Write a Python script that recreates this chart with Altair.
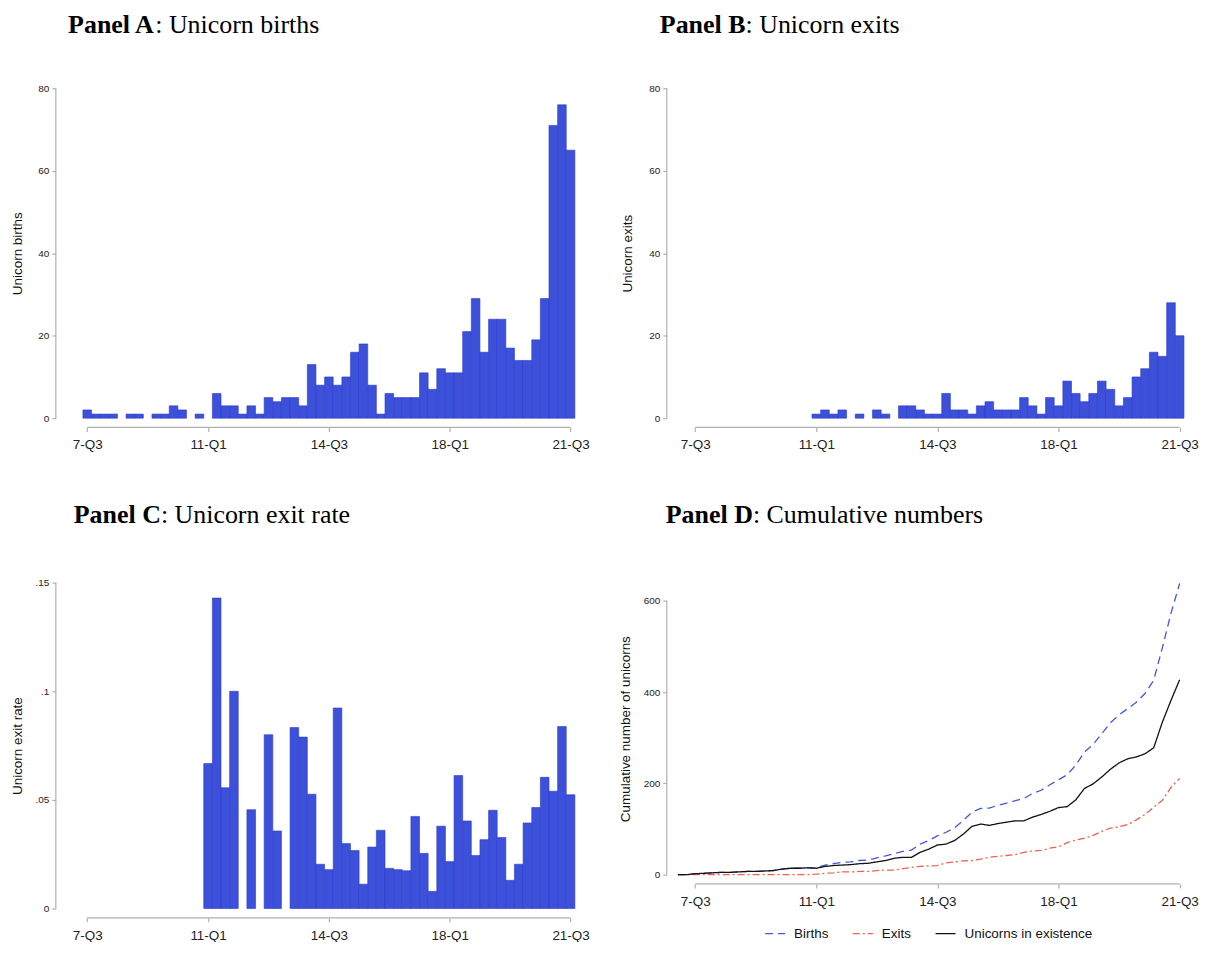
import altair as alt
import pandas as pd

# ---------------- data ----------------
# quarter index: 0 = 2007-Q3 ; series start at 2007-Q1 (index -2) and end at 2021-Q3 (index 56)
QUARTER_IDX = list(range(-2, 57))

BIRTHS = [0, 0,
          2, 1, 1, 1, 0, 1, 1, 0, 1, 1, 3, 2, 0, 1, 0,
          6, 3, 3, 1, 3, 1, 5, 4, 5, 5, 3,
          13, 8, 10, 8, 10, 16, 18, 8, 1,
          6, 5, 5, 5, 11, 7, 12, 11, 11,
          21, 29, 16, 24, 24, 17, 14, 14, 19, 29,
          71, 76, 65]

EXITS = [0] * 16 + [1, 2, 1, 2, 0, 1, 0, 2, 1, 0,
                    3, 3, 2, 1, 1, 6, 2, 2, 1, 3, 4,
                    2, 2, 2, 5, 3, 1, 5, 3, 9, 6, 4, 6, 9, 7, 3, 5,
                    10, 12, 16, 15, 28, 20]

EXIT_RATE = [None] * 16 + [0.0667, 0.1429, 0.0556, 0.1000, None, 0.0455, None, 0.0800, 0.0357, None,
                           0.0833, 0.0789, 0.0526, 0.0204, 0.0179, 0.0923, 0.0299, 0.0267, 0.0112,
                           0.0283, 0.0360, 0.0185, 0.0179, 0.0174, 0.0424, 0.0254, 0.0079, 0.0379,
                           0.0216, 0.0612, 0.0403, 0.0244, 0.0317, 0.0452, 0.0327, 0.0130, 0.0204,
                           0.0394, 0.0465, 0.0604, 0.0540, 0.0838, 0.0524]

X_TICKS = [0, 14, 28, 42, 56]
X_TICK_LABELS = ["7-Q3", "11-Q1", "14-Q3", "18-Q1", "21-Q3"]

Y_TICKS_COUNT = [0, 20, 40, 60, 80]
Y_TICKS_RATE = [0, 0.05, 0.1, 0.15]
Y_LABELS_RATE = ["0", ".05", ".1", ".15"]
Y_TICKS_CUM = [0, 200, 400, 600]

SERIES = ["Births", "Exits", "Unicorns in existence"]
LINE_COLORS = ["#4656e0", "#f2604c", "#111111"]
DASHES = [[8, 5], [7, 3, 2, 3], [1, 0]]

df = pd.DataFrame({"idx": QUARTER_IDX, "births": BIRTHS, "exits": EXITS, "rate": EXIT_RATE})

# ---------------- styles ----------------
NARROW = "Liberation Sans Narrow, Arial Narrow, Liberation Sans, sans-serif"
SANS = "Liberation Sans, Arial, Helvetica, sans-serif"
SERIF = "Liberation Serif, Times New Roman, serif"
BAR_FILL = "#3c50d9"
BAR_EDGE = "#2b3ccc"
AXIS_COLOR = "#b0b0b0"
TEXT_COLOR = "#222222"

COL0_W, COL1_W = 522, 519
ROW0_H = 331
C_H = 327
D_H = 293
X_DOM_0 = [-3.637, 56.64]
X_DOM_1 = [-3.283, 56.51]
ROW_GAP = 165
COL_GAP = 91

x_label_expr = ("[" + ",".join("'%s'" % s for s in X_TICK_LABELS) + "][indexof(["
                + ",".join(str(v) for v in X_TICKS) + "], datum.value)]")
rate_label_expr = ("[" + ",".join("'%s'" % s for s in Y_LABELS_RATE) + "][indexof(["
                   + ",".join(str(v) for v in Y_TICKS_RATE) + "], datum.value)]")


def x_axis():
    return alt.Axis(values=X_TICKS, labelExpr=x_label_expr, title=None, domain=False, grid=False,
                    ticks=True, tickSize=4, tickColor=AXIS_COLOR, tickWidth=1.2, offset=9.3,
                    labelFont=NARROW, labelFontSize=13.5, labelColor=TEXT_COLOR, labelPadding=6.5,
                    labelFlush=False, labelOverlap=False)


def y_axis(values, title, title_x, title_y, label_expr=None):
    kw = dict(values=values, title=title, domain=False, grid=False, ticks=True, tickSize=4,
              tickColor=AXIS_COLOR, tickWidth=1.2, labelFont=NARROW, labelFontSize=10,
              labelColor=TEXT_COLOR, labelPadding=3, labelFlush=False, labelOverlap=False,
              titleFont=SANS, titleFontSize=13.5, titleFontWeight="normal", titleColor="#111111",
              titleX=title_x, titleY=title_y, titleAngle=270, titleAlign="center",
              titleBaseline="middle")
    if label_expr:
        kw["labelExpr"] = label_expr
    return alt.Axis(**kw)


one = pd.DataFrame({"k": [0]})


def title_layers(bold, rest, x, y, bold_w):
    a = alt.Chart(one).mark_text(align="left", baseline="alphabetic", font=SERIF, fontSize=26,
                                 fontWeight="bold", color="black", text=bold).encode(
        x=alt.value(x), y=alt.value(y))
    b = alt.Chart(one).mark_text(align="left", baseline="alphabetic", font=SERIF, fontSize=26,
                                 fontWeight="normal", color="black", text=rest).encode(
        x=alt.value(x + bold_w), y=alt.value(y))
    return [a, b]


def axis_lines(ytop, height):
    yl = alt.Chart(one).mark_rule(color=AXIS_COLOR, strokeWidth=1.2).encode(
        x=alt.value(0), y=alt.datum(0), y2=alt.datum(ytop))
    xl = alt.Chart(one).mark_rule(color=AXIS_COLOR, strokeWidth=1.2).encode(
        x=alt.datum(X_TICKS[0]), x2=alt.datum(X_TICKS[-1]), y=alt.value(height + 9.3))
    return [yl, xl]


def bar_panel(field, xdom, ydom, yticks, ytitle, ytitle_x, height, label_expr=None):
    return alt.Chart(df).transform_filter("datum.%s > 0" % field).transform_calculate(
        x0="datum.idx - 0.5", x1="datum.idx + 0.5").mark_rect(
        fill=BAR_FILL, stroke=BAR_EDGE, strokeWidth=0.6).encode(
        x=alt.X("x0:Q", scale=alt.Scale(domain=xdom, nice=False, zero=False), axis=x_axis()),
        x2="x1:Q",
        y=alt.Y("%s:Q" % field, scale=alt.Scale(domain=ydom, nice=False, zero=False),
                axis=y_axis(yticks, ytitle, ytitle_x, height / 2, label_expr)),
        y2=alt.datum(0))


# anchor fixing the top-left of the drawing at the page's 8px margin
anchor = alt.Chart(one).mark_rule(color="white", strokeWidth=1).encode(
    x=alt.value(-47.5), x2=alt.value(-47.4), y=alt.value(-78.2), y2=alt.value(-78.1))

# Panel A
pA = alt.layer(
    bar_panel("births", X_DOM_0, [0, 80], Y_TICKS_COUNT, "Unicorn births", -38, ROW0_H),
    *axis_lines(80, ROW0_H),
    *title_layers("Panel A", ": Unicorn births", 12.3, -55.6, 87.4),
    anchor,
).properties(width=COL0_W, height=ROW0_H)

# Panel B
pB = alt.layer(
    bar_panel("exits", X_DOM_1, [0, 80], Y_TICKS_COUNT, "Unicorn exits", -39, ROW0_H),
    *axis_lines(80, ROW0_H),
    *title_layers("Panel B", ": Unicorn exits", -7, -55.6, 86.0),
).properties(width=COL1_W, height=ROW0_H)

# Panel C
pC = alt.layer(
    bar_panel("rate", X_DOM_0, [0, 0.15], Y_TICKS_RATE, "Unicorn exit rate", -38, C_H,
              rate_label_expr),
    *axis_lines(0.15, C_H),
    *title_layers("Panel C", ": Unicorn exit rate", 18, -59.5, 87.4),
).properties(width=COL0_W, height=C_H)

# Panel D  (legend coordinates are relative to the top-left plot area)
row1_top = ROW0_H + ROW_GAP
leg = alt.Legend(title=None, orient="none", legendX=COL0_W + COL_GAP + 97.7,
                 legendY=row1_top + D_H + 48, direction="horizontal",
                 symbolType="stroke", symbolSize=400, symbolStrokeWidth=1.3, labelFont=SANS,
                 labelFontSize=13.5, labelColor="#111111", labelOffset=8, columnPadding=21,
                 padding=0)

lines = alt.Chart(df).transform_window(
    Births="sum(births)", Exits="sum(exits)", sort=[alt.SortField("idx")], frame=[None, 0]
).transform_calculate(
    **{"Unicorns in existence": "datum.Births - datum.Exits"}
).transform_fold(SERIES, as_=["series", "value"]).mark_line(strokeWidth=1.3).encode(
    x=alt.X("idx:Q", scale=alt.Scale(domain=X_DOM_1, nice=False, zero=False), axis=x_axis()),
    y=alt.Y("value:Q", scale=alt.Scale(domain=[0, 640], nice=False, zero=False),
            axis=y_axis(Y_TICKS_CUM, "Cumulative number of unicorns", -41, D_H / 2)),
    color=alt.Color("series:N", scale=alt.Scale(domain=SERIES, range=LINE_COLORS), legend=leg),
    strokeDash=alt.StrokeDash("series:N", scale=alt.Scale(domain=SERIES, range=DASHES), legend=leg),
)

pD = alt.layer(
    lines,
    *axis_lines(600, D_H),
    *title_layers("Panel D", ": Cumulative numbers", -1, -59.5, 87.4),
).properties(width=COL1_W, height=D_H)

chart = alt.concat(
    pA, pB, pC, pD, columns=2,
    spacing={"row": ROW_GAP, "column": COL_GAP},
    bounds="flush", align="each",
    padding={"left": 0, "top": 0, "right": 0, "bottom": -2},
).configure(background="white").configure_view(stroke=None)

chart.save("out.html", embed_options={"renderer": "svg", "actions": False})
